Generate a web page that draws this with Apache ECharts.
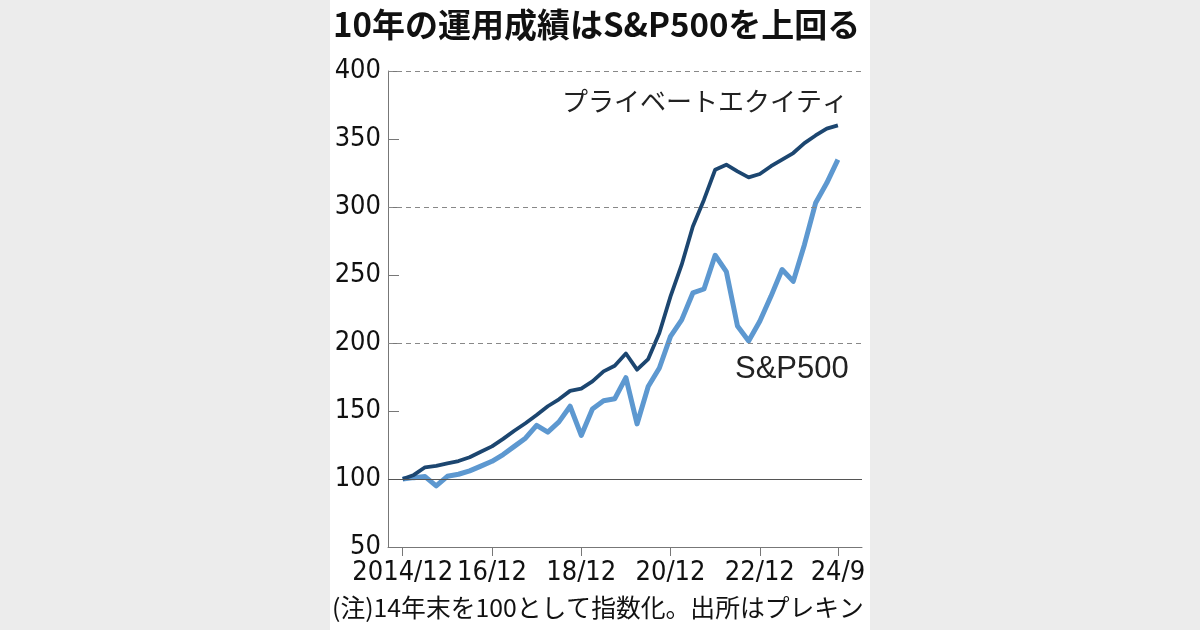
<!DOCTYPE html>
<html>
<head>
<meta charset="utf-8">
<script src="https://cdn.jsdelivr.net/npm/echarts@6/dist/echarts.min.js"></script>
<style>
	html, body { margin: 0; padding: 0; background: #ececec; }
	#main { width: 1200px; height: 630px; }
</style>
</head>
<body>
<div id="main"></div>
<script>
// 四半期 (2014/12 ～ 2024/9)
var quarters = [];
for (var y = 2014; y <= 2024; y++) {
	[3, 6, 9, 12].forEach(function(m){
		if ((y == 2014 && m < 12) || (y == 2024 && m > 9)) return;
		quarters.push(y + '/' + m);
	});
}
// プライベートエクイティ
var peValues = [100, 103, 108.6, 109.6, 111.5, 113.2, 116, 120, 124, 129.5,
	135.5, 141, 147, 153.5, 158.6, 164.8, 166.5, 171.8, 179.1, 183.3,
	192.3, 180.4, 188.2, 207.3, 234.3, 257.6, 285.7, 305.4, 327.4, 331.1,
	326.2, 321.8, 324.3, 330, 334.8, 339.7, 347, 352.6, 357.6, 360];
// S&P500
var spValues = [100, 101, 101.8, 95, 102, 103.5, 106, 109.5, 113, 118,
	124, 130, 139.5, 134.5, 142, 153.5, 132, 151.5, 157.5, 159,
	174.5, 140.5, 168, 181.6, 204.9, 217, 236.8, 239.7, 264.5, 252.5,
	212.5, 201.5, 216, 234.3, 254, 245.3, 272.3, 302.9, 317.6, 334.8];
// 目盛り
var tickIndex = [0, 8, 16, 24, 32, 39];
var tickLabels = ['2014/12', '16/12', '18/12', '20/12', '22/12', '24/9'];
var dashedLines = [200, 300, 400];
var baseLine = 100;

function toPairs(arr){
	var out = [];
	for (var i = 0; i < arr.length; i++) {
		out.push([i, arr[i]]);
	}
	return out;
}

var narrow = "'DejaVu Sans Condensed', 'Liberation Sans Narrow', 'Liberation Sans', sans-serif";
var jp = "'Noto Sans CJK JP', sans-serif";

var chart = echarts.init(document.getElementById('main'));
chart.setOption({
	backgroundColor: 'transparent',
	animation: false,
	graphic: [
		{ type: 'rect', z: -10, shape: { x: 330, y: 0, width: 540, height: 630 }, style: { fill: '#ffffff' } },
		{ type: 'text', left: 333, top: 8, style: { text: '10年の運用成績はS&P500を上回る', font: 'bold 33px ' + jp, fill: '#111' } },
		{ type: 'text', left: 562, top: 88, style: { text: 'プライベートエクイティ', font: '26px ' + jp, fill: '#222' } },
		{ type: 'text', left: 735, top: 354, style: { text: 'S&P500', font: '31px ' + "'Liberation Sans', sans-serif", fill: '#222' } },
		{ type: 'text', left: 332, top: 595, style: { text: '(注)14年末を100として指数化。出所はプレキン', font: '24.8px ' + jp, fill: '#111' } }
	],
	grid: {
		left: 388,
		right: 338,
		top: 71,
		bottom: 83
	},
	xAxis: {
		type: 'value',
		min: -1.32,
		max: 41.16,
		splitLine: { show: false },
		axisLine: { onZero: false, lineStyle: { color: '#777', width: 1 } },
		axisTick: {
			show: true,
			length: 9,
			customValues: tickIndex,
			lineStyle: { color: '#777' }
		},
		axisLabel: {
			customValues: tickIndex,
			margin: 12,
			fontFamily: narrow,
			fontSize: 27,
			color: '#111',
			formatter: function(v){
				var k = tickIndex.indexOf(Math.round(v));
				return k >= 0 ? tickLabels[k] : '';
			}
		}
	},
	yAxis: {
		type: 'value',
		min: 50,
		max: 400,
		interval: 50,
		splitLine: { show: false },
		axisLine: { show: true, onZero: false, lineStyle: { color: '#777', width: 1 } },
		axisTick: { show: true, inside: true, length: 11, lineStyle: { color: '#777' } },
		axisLabel: {
			margin: 7,
			fontFamily: narrow,
			fontSize: 27,
			color: '#111'
		}
	},
	series: [
		{
			type: 'line',
			data: [],
			z: 1,
			silent: true,
			markLine: {
				silent: true,
				symbol: 'none',
				label: { show: false },
				data: dashedLines.map(function(v){
					return { yAxis: v, lineStyle: { type: [5, 4], color: '#888', width: 1 } };
				}).concat([{ yAxis: baseLine, lineStyle: { type: 'solid', color: '#555', width: 1.2 } }])
			}
		},
		{
			name: 'S&P500',
			type: 'line',
			z: 2,
			data: toPairs(spValues),
			showSymbol: false,
			lineStyle: { color: '#5d98d0', width: 5, join: 'round' }
		},
		{
			name: 'プライベートエクイティ',
			type: 'line',
			z: 3,
			data: toPairs(peValues),
			showSymbol: false,
			lineStyle: { color: '#1c4670', width: 3.8, join: 'round' }
		}
	]
});
</script>
</body>
</html>
